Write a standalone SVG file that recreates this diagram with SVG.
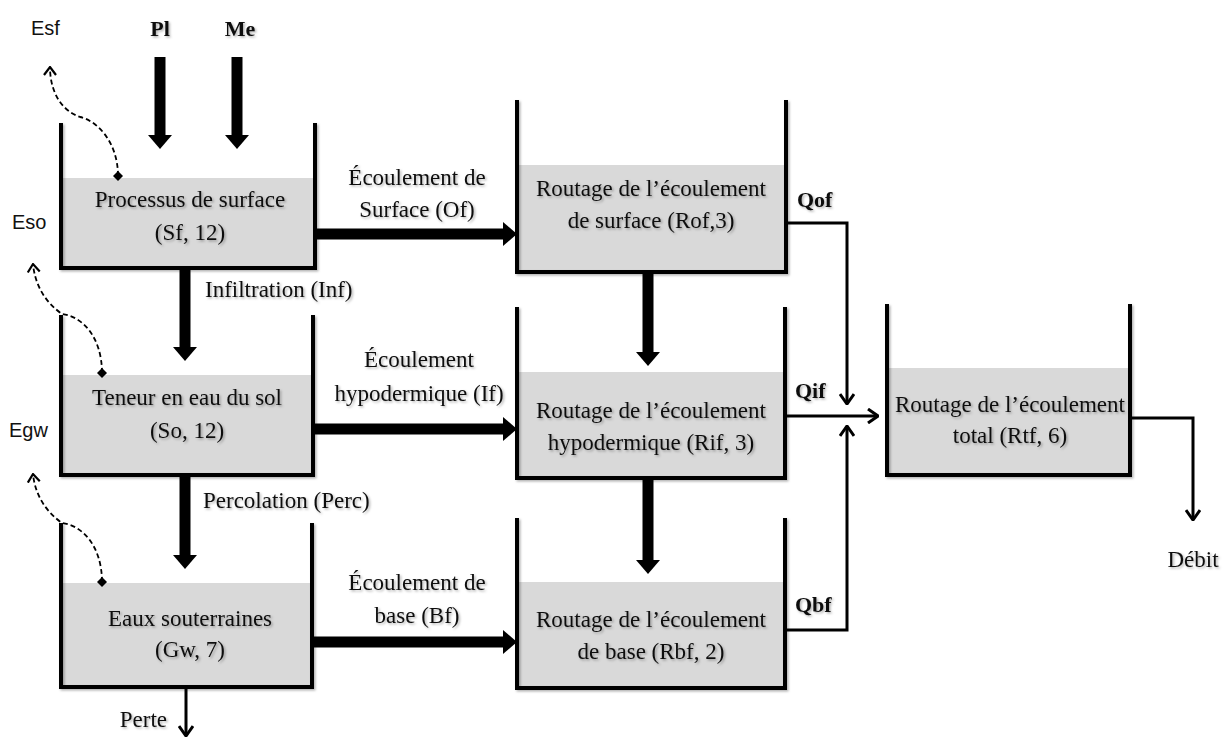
<svg xmlns="http://www.w3.org/2000/svg" width="1229" height="738" viewBox="0 0 1229 738">
  <defs>
    <style>
      .wall { fill: none; stroke: #000; stroke-width: 4; stroke-linejoin: miter; }
      .water { fill: #d9d9d9; }
      .lbl { font-family: "Liberation Serif", "Times New Roman", serif; font-size: 23px; fill: #111; }
      .mid { text-anchor: middle; }
      .bold { font-weight: bold; font-size: 22px; }
      .sans { font-family: "Liberation Sans", Arial, sans-serif; font-size: 20px; fill: #111; }
      .thick { stroke: #000; stroke-width: 11; fill: none; }
      .thin { stroke: #000; stroke-width: 3; fill: none; }
      .dash { stroke: #000; stroke-width: 1.8; fill: none; stroke-dasharray: 5 3; }
      .sh { filter: url(#soft); }
    </style>
    <filter id="soft" x="-10%" y="-10%" width="130%" height="130%">
      <feDropShadow dx="1.5" dy="1.5" stdDeviation="1" flood-color="#000" flood-opacity="0.3"/>
    </filter>
    <!-- solid head for the thick flow arrows; line ends at the base of the head -->
    <marker id="bigHead" viewBox="0 0 14 24" refX="0" refY="12" markerWidth="14" markerHeight="24" markerUnits="userSpaceOnUse" orient="auto">
      <path d="M0,0 L14,12 L0,24 Z" fill="#000"/>
    </marker>
    <!-- open chevron for the thin output arrows -->
    <marker id="chev" viewBox="0 0 12 16" refX="11" refY="8" markerWidth="12" markerHeight="16" markerUnits="userSpaceOnUse" orient="auto">
      <path d="M1,1 L11,8 L1,15" fill="none" stroke="#000" stroke-width="3"/>
    </marker>
    <!-- small chevron for the evaporation curves -->
    <marker id="chevS" viewBox="0 0 10 14" refX="9" refY="7" markerWidth="10" markerHeight="14" markerUnits="userSpaceOnUse" orient="auto">
      <path d="M1,1 L9,7 L1,13" fill="none" stroke="#000" stroke-width="2.2"/>
    </marker>
    <marker id="diamond" viewBox="0 0 10 10" refX="5" refY="5" markerWidth="10" markerHeight="10" markerUnits="userSpaceOnUse">
      <path d="M5,0 L10,5 L5,10 L0,5 Z" fill="#000"/>
    </marker>
  </defs>

  <rect width="1229" height="738" fill="#fff"/>

  <!-- storage tanks -->
  <g id="surface">
    <rect class="water" x="62" y="178" width="252" height="89"/>
    <path class="wall sh" d="M61,123 V268 H315 V123"/>
    <text class="lbl mid sh" x="190" y="207">Processus de surface</text>
    <text class="lbl mid sh" x="190" y="240">(Sf, 12)</text>
  </g>

  <g id="sol">
    <rect class="water" x="62" y="375" width="250" height="99"/>
    <path class="wall sh" d="M61,315 V475 H313 V315"/>
    <text class="lbl mid sh" x="187" y="405">Teneur en eau du sol</text>
    <text class="lbl mid sh" x="187" y="438">(So, 12)</text>
  </g>

  <g id="souterraines">
    <rect class="water" x="62" y="583" width="249" height="103"/>
    <path class="wall sh" d="M61,523 V687 H312 V523"/>
    <text class="lbl mid sh" x="190" y="626">Eaux souterraines</text>
    <text class="lbl mid sh" x="190" y="657">(Gw, 7)</text>
  </g>

  <g id="routage-surface">
    <rect class="water" x="518" y="165" width="267" height="106"/>
    <path class="wall sh" d="M517,100 V272 H786 V100"/>
    <text class="lbl mid sh" x="651" y="196">Routage de l’écoulement</text>
    <text class="lbl mid sh" x="651" y="228">de surface (Rof,3)</text>
  </g>

  <g id="routage-hypodermique">
    <rect class="water" x="518" y="372" width="266" height="105"/>
    <path class="wall sh" d="M517,307 V478 H785 V307"/>
    <text class="lbl mid sh" x="651" y="418">Routage de l’écoulement</text>
    <text class="lbl mid sh" x="651" y="450">hypodermique (Rif, 3)</text>
  </g>

  <g id="routage-base">
    <rect class="water" x="518" y="582" width="266" height="105"/>
    <path class="wall sh" d="M517,518 V688 H785 V518"/>
    <text class="lbl mid sh" x="651" y="627">Routage de l’écoulement</text>
    <text class="lbl mid sh" x="651" y="659">de base (Rbf, 2)</text>
  </g>

  <g id="routage-total">
    <rect class="water" x="888" y="368" width="241" height="106"/>
    <path class="wall sh" d="M887,304 V475 H1130 V304"/>
    <text class="lbl mid sh" x="1010" y="412">Routage de l’écoulement</text>
    <text class="lbl mid sh" x="1010" y="443">total (Rtf, 6)</text>
  </g>

  <!-- fluxes between stores -->
  <g id="connectors">
    <!-- inputs -->
    <line class="thick" x1="160" y1="57" x2="160" y2="135" marker-end="url(#bigHead)"/>
    <line class="thick" x1="237" y1="57" x2="237" y2="135" marker-end="url(#bigHead)"/>
    <!-- vertical transfers -->
    <line class="thick" x1="185" y1="270" x2="185" y2="347" marker-end="url(#bigHead)"/>
    <line class="thick" x1="185" y1="477" x2="185" y2="555" marker-end="url(#bigHead)"/>
    <line class="thick" x1="648" y1="274" x2="648" y2="352" marker-end="url(#bigHead)"/>
    <line class="thick" x1="648" y1="480" x2="648" y2="560" marker-end="url(#bigHead)"/>
    <!-- horizontal transfers -->
    <line class="thick" x1="317" y1="234" x2="503" y2="234" marker-end="url(#bigHead)"/>
    <line class="thick" x1="315" y1="429" x2="503" y2="429" marker-end="url(#bigHead)"/>
    <line class="thick" x1="314" y1="642" x2="503" y2="642" marker-end="url(#bigHead)"/>
    <!-- routed outflows -->
    <polyline class="thin" points="788,223 847,223 847,404" marker-end="url(#chev)"/>
    <line class="thin" x1="787" y1="416" x2="878" y2="416" marker-end="url(#chev)"/>
    <polyline class="thin" points="787,630 847,630 847,426" marker-end="url(#chev)"/>
    <polyline class="thin" points="1132,418 1193,418 1193,520" marker-end="url(#chev)"/>
    <line class="thin" x1="186" y1="689" x2="186" y2="736" marker-end="url(#chev)"/>
    <!-- evaporation -->
    <path class="dash" d="M118,176 C118,140 95,120 80,117 C60,110 50,90 50,67" marker-start="url(#diamond)" marker-end="url(#chevS)"/>
    <path class="dash" d="M102,373 C102,337 82,316 62,314 C45,302 35,285 33,264" marker-start="url(#diamond)" marker-end="url(#chevS)"/>
    <path class="dash" d="M102,582 C102,546 82,525 62,523 C45,511 35,494 33,474" marker-start="url(#diamond)" marker-end="url(#chevS)"/>
  </g>

  <!-- flux labels -->
  <g id="labels">
    <text class="sans" x="31" y="35">Esf</text>
    <text class="sans" x="12" y="229">Eso</text>
    <text class="sans" x="9" y="437">Egw</text>
    <text class="lbl bold mid sh" x="160" y="36">Pl</text>
    <text class="lbl bold mid sh" x="240" y="36">Me</text>
    <text class="lbl sh" x="205" y="297">Infiltration (Inf)</text>
    <text class="lbl sh" x="203" y="508">Percolation (Perc)</text>
    <text class="lbl mid sh" x="417" y="185">Écoulement de</text>
    <text class="lbl mid sh" x="417" y="217">Surface (Of)</text>
    <text class="lbl mid sh" x="419" y="367">Écoulement</text>
    <text class="lbl mid sh" x="419" y="401">hypodermique (If)</text>
    <text class="lbl mid sh" x="417" y="590">Écoulement de</text>
    <text class="lbl mid sh" x="417" y="623">base (Bf)</text>
    <text class="lbl bold sh" x="797" y="207">Qof</text>
    <text class="lbl bold sh" x="795" y="398">Qif</text>
    <text class="lbl bold sh" x="795" y="612">Qbf</text>
    <text class="lbl mid sh" x="1193" y="567">Débit</text>
    <text class="lbl sh" x="167" y="727" text-anchor="end">Perte</text>
  </g>
</svg>
